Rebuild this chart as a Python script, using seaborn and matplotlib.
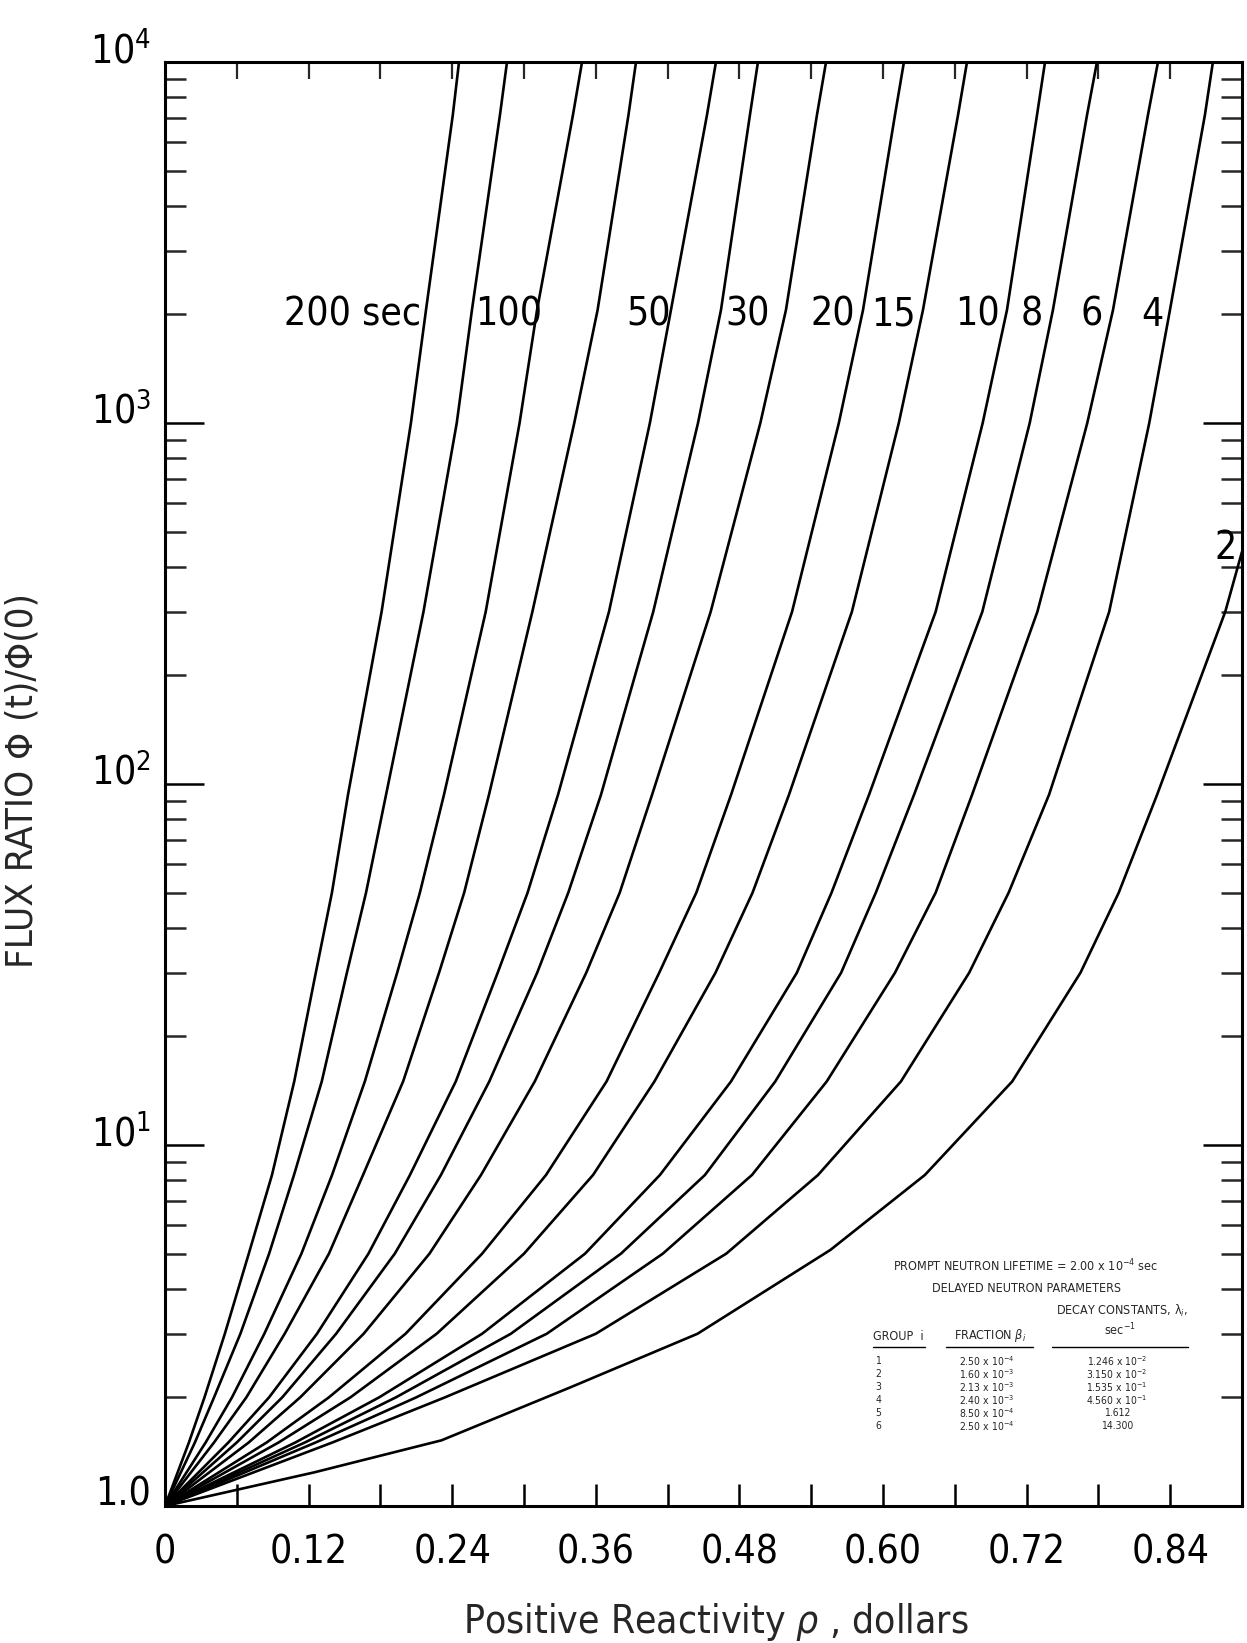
import numpy as np
import pandas as pd
import matplotlib
matplotlib.use("Agg")
import matplotlib.pyplot as plt
import seaborn as sns
from matplotlib.transforms import ScaledTranslation

# ---------------- data ----------------
# Flux ratio levels at which each curve's reactivity was read
FLUX_LEVELS = [1.0, 1.5, 2.0, 3.0, 5.0, 8.26, 15.0, 30.0, 50.0, 93.3, 300.0, 1000.0, 2056, 7130, 10000]

# Reactivity (dollars) of each curve at FLUX_LEVELS
RHO_200 = [0.0, 0.020, 0.033, 0.050, 0.070, 0.0894, 0.108, 0.126, 0.1395, 0.1529, 0.181, 0.2055, 0.2181, 0.2405, 0.2457]
RHO_150 = [0.0, 0.025, 0.041, 0.063, 0.087, 0.1078, 0.131, 0.152, 0.168, 0.1847, 0.216, 0.2438, 0.2565, 0.2799, 0.2858]
RHO_100 = [0.0, 0.034, 0.056, 0.083, 0.114, 0.1396, 0.167, 0.194, 0.213, 0.2331, 0.268, 0.2963, 0.3109, 0.3409, 0.3485]
RHO_70 = [0.0, 0.041, 0.068, 0.100, 0.137, 0.1655, 0.199, 0.229, 0.250, 0.2707, 0.307, 0.3420, 0.3615, 0.3873, 0.3936]
RHO_50 = [0.0, 0.053, 0.087, 0.127, 0.170, 0.2047, 0.243, 0.278, 0.303, 0.3284, 0.371, 0.4052, 0.4228, 0.4529, 0.4604]
RHO_40 = [0.0, 0.060, 0.098, 0.143, 0.192, 0.2306, 0.271, 0.311, 0.337, 0.3643, 0.408, 0.4454, 0.4646, 0.4888, 0.4955]
RHO_30 = [0.0, 0.070, 0.113, 0.166, 0.221, 0.2641, 0.309, 0.352, 0.380, 0.4070, 0.456, 0.4975, 0.5189, 0.5448, 0.5524]
RHO_20 = [0.0, 0.085, 0.137, 0.201, 0.265, 0.3184, 0.369, 0.413, 0.444, 0.4730, 0.524, 0.5631, 0.5833, 0.6100, 0.6175]
RHO_15 = [0.0, 0.095, 0.155, 0.227, 0.300, 0.3577, 0.409, 0.460, 0.491, 0.5214, 0.574, 0.6132, 0.6334, 0.6627, 0.6702]
RHO_10 = [0.0, 0.109, 0.179, 0.265, 0.351, 0.4136, 0.473, 0.528, 0.557, 0.5883, 0.644, 0.6833, 0.7036, 0.7287, 0.7354]
RHO_8 = [0.0, 0.117, 0.193, 0.289, 0.381, 0.4512, 0.510, 0.565, 0.594, 0.6259, 0.683, 0.7226, 0.7420, 0.7705, 0.7788]
RHO_6 = [0.0, 0.126, 0.210, 0.319, 0.416, 0.4905, 0.553, 0.610, 0.644, 0.6744, 0.729, 0.7707, 0.7922, 0.8214, 0.8298]
RHO_4 = [0.0, 0.140, 0.234, 0.360, 0.469, 0.5457, 0.615, 0.672, 0.705, 0.7387, 0.789, 0.8225, 0.8398, 0.8690, 0.8757]

FLUX_2 = [1.0, 1.24, 1.52, 2.14, 3.0, 5.12, 8.26, 15.0, 30.0, 50.0, 93.3, 300.0, 440.0]
RHO_2 = [0.0, 0.125, 0.231, 0.340, 0.445, 0.556, 0.635, 0.708, 0.765, 0.797, 0.829, 0.886, 0.900]

CURVE_TIMES = ["200", "150", "100", "70", "50", "40", "30", "20", "15", "10", "8", "6", "4"]
CURVE_RHOS = [RHO_200, RHO_150, RHO_100, RHO_70, RHO_50, RHO_40, RHO_30,
              RHO_20, RHO_15, RHO_10, RHO_8, RHO_6, RHO_4]

# curve labels (text, rho, flux)
LABEL_TEXT = ["200 sec", "100", "50", "30", "20", "15", "10", "8", "6", "4", "2"]
LABEL_RHO = [0.1571, 0.2874, 0.4045, 0.4872, 0.5582, 0.6084, 0.6793, 0.7245, 0.7746, 0.8248, 0.8866]
LABEL_FLUX = [1992, 1992, 1992, 1992, 1992, 1992, 1992, 1992, 1992, 1992, 450]

X_TICKS = [0.0, 0.06, 0.12, 0.18, 0.24, 0.30, 0.36, 0.42, 0.48, 0.54, 0.60, 0.66, 0.72, 0.78, 0.84]
X_TICK_LABELS = ["0", "", "0.12", "", "0.24", "", "0.36", "", "0.48", "", "0.60", "", "0.72", "", "0.84"]
Y_TICKS = [1, 10, 100, 1000, 10000]
Y_TICK_LABELS = ["1.0", r"$\mathregular{10^{1}}$", r"$\mathregular{10^{2}}$",
                 r"$\mathregular{10^{3}}$", r"$\mathregular{10^{4}}$"]

TABLE_GROUP = ["1", "2", "3", "4", "5", "6"]
TABLE_FRACTION = [r"2.50 x 10$^{-4}$", r"1.60 x 10$^{-3}$", r"2.13 x 10$^{-3}$",
                  r"2.40 x 10$^{-3}$", r"8.50 x 10$^{-4}$", r"2.50 x 10$^{-4}$"]
TABLE_DECAY = [r"1.246 x 10$^{-2}$", r"3.150 x 10$^{-2}$", r"1.535 x 10$^{-1}$",
               r"4.560 x 10$^{-1}$", "1.612", "14.300"]

# ---------------- build long table ----------------
rows = []
for name, rhos in zip(CURVE_TIMES, CURVE_RHOS):
    for r, f in zip(rhos, FLUX_LEVELS):
        rows.append({"curve": name, "rho": r, "flux": f})
for r, f in zip(RHO_2, FLUX_2):
    rows.append({"curve": "2", "rho": r, "flux": f})
df = pd.DataFrame(rows)

# ---------------- style ----------------
sns.set_theme(style="white")
plt.rcParams["font.family"] = ["DejaVu Sans"]
plt.rcParams["font.stretch"] = "condensed"
plt.rcParams["mathtext.fontset"] = "custom"
plt.rcParams["mathtext.rm"] = "DejaVu Sans:stretch=condensed"
plt.rcParams["mathtext.it"] = "DejaVu Sans:italic:stretch=condensed"

fig = plt.figure(figsize=(12.47, 16.43), dpi=100)
L, R, T, B = 165 / 1247, 1242 / 1247, 1 - 62 / 1643, 1 - 1506 / 1643
ax = fig.add_axes([L, B, R - L, T - B])

order = CURVE_TIMES + ["2"]
sns.lineplot(data=df, x="rho", y="flux", hue="curve", hue_order=order,
             palette=["black"] * len(order), estimator=None, sort=False,
             linewidth=1.9, legend=False, ax=ax)
for ln in ax.get_lines():
    ln.set_solid_joinstyle("round")

ax.set_yscale("log")
ax.set_xlim(0, 0.9)
ax.set_ylim(1, 10000)
ax.set_xlabel("")
ax.set_ylabel("")

for s in ax.spines.values():
    s.set_linewidth(2.2)
    s.set_color("black")

ax.set_xticks(X_TICKS)
ax.set_xticklabels(X_TICK_LABELS, fontsize=28)
ax.tick_params(axis="x", which="major", direction="in", length=16, width=1.8,
               pad=20, bottom=True, top=False, colors="black")
sec = ax.secondary_xaxis("top")
sec.set_xticks(X_TICKS[1:])
sec.tick_params(direction="in", length=12, width=1.6, labeltop=False)
sec.spines["top"].set_visible(False)

ax.set_yticks(Y_TICKS)
ax.set_yticklabels(Y_TICK_LABELS, fontsize=28)
ax.yaxis.set_minor_locator(matplotlib.ticker.LogLocator(base=10, subs=np.arange(2, 10)))
ax.yaxis.set_minor_formatter(matplotlib.ticker.NullFormatter())
ax.tick_params(axis="y", which="major", direction="in", length=28, width=1.8,
               left=True, right=True, pad=10, colors="black")
ax.tick_params(axis="y", which="minor", direction="in", length=15, width=1.8,
               left=True, right=True)
for lab in ax.get_yticklabels():
    lab.set_transform(lab.get_transform() + ScaledTranslation(0, 0.15, fig.dpi_scale_trans))

# curve labels
for txt, r, f in zip(LABEL_TEXT, LABEL_RHO, LABEL_FLUX):
    ax.text(r, f, txt, fontsize=28, ha="center", va="center", color="black")

# axis titles
fig.text(716 / 1247, 1 - 1622 / 1643, r"Positive Reactivity $\rho$ , dollars",
         fontsize=28, ha="center", va="center")
fig.text(23 / 1247, 1 - 781 / 1643, "FLUX RATIO Φ (t)/Φ(0)", fontsize=27.5,
         rotation=90, ha="center", va="center")

# parameter table
def fx(px):
    return px / 1247

def fy(py):
    return 1 - py / 1643

hfs = 9
tfs = 7.5
fig.text(fx(1026), fy(1266), r"PROMPT NEUTRON LIFETIME = 2.00 x 10$^{-4}$ sec", fontsize=hfs, ha="center", va="center")
fig.text(fx(1026), fy(1289), "DELAYED NEUTRON PARAMETERS", fontsize=hfs, ha="center", va="center")
fig.text(fx(1122), fy(1311), "DECAY CONSTANTS, λ$_{i}$,", fontsize=hfs, ha="center", va="center")
fig.text(fx(898), fy(1336), "GROUP  i", fontsize=hfs, ha="center", va="center")
fig.text(fx(990), fy(1336), r"FRACTION $\beta_{i}$", fontsize=hfs, ha="center", va="center")
fig.text(fx(1120), fy(1330), r"sec$^{-1}$", fontsize=hfs, ha="center", va="center")
for x0, x1 in [(873, 925), (946, 1033), (1052, 1188)]:
    fig.add_artist(plt.Line2D([fx(x0), fx(x1)], [fy(1347), fy(1347)], color="black", lw=1.0))
row_y = [1361, 1374, 1387, 1400, 1413, 1426]
for yy, g, fr, dc in zip(row_y, TABLE_GROUP, TABLE_FRACTION, TABLE_DECAY):
    fig.text(fx(878), fy(yy), g, fontsize=tfs, ha="center", va="center")
    fig.text(fx(987), fy(yy), fr, fontsize=tfs, ha="center", va="center")
    fig.text(fx(1117), fy(yy), dc, fontsize=tfs, ha="center", va="center")

fig.savefig("out.png", dpi=100, facecolor="white")
